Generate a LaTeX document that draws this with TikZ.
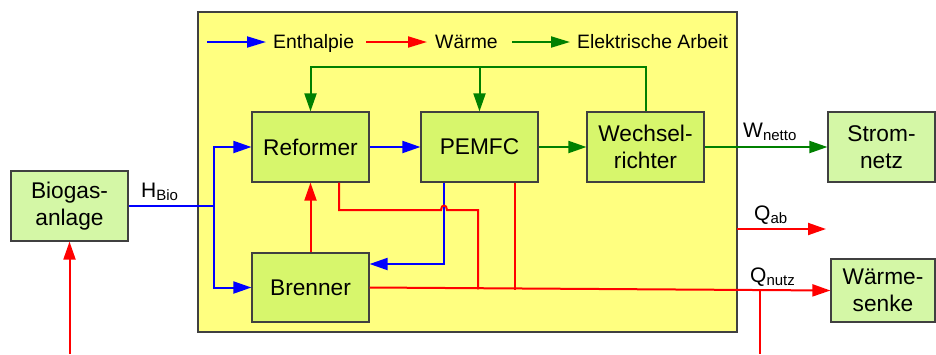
\documentclass[tikz,border=0pt]{standalone}
\usepackage{fontspec}
\setmainfont{Liberation Sans}
\usetikzlibrary{arrows.meta,calc}
\definecolor{yel}{HTML}{FFFF80}
\definecolor{inbox}{HTML}{D7F66C}
\definecolor{exbox}{HTML}{D4F7A6}
\definecolor{edge}{HTML}{404040}
\definecolor{grn}{HTML}{008000}
\newcommand{\lbl}[2]{#1\raisebox{-3.5pt}{\fontsize{15}{15}\selectfont #2}}
\begin{document}
\begin{tikzpicture}[x=1pt,y=-1pt,
  boxbase/.style={draw=edge,line width=1.2pt,inner sep=0pt,align=center,
    font=\fontsize{22.7}{27.5}\selectfont},
  inb/.style={boxbase,fill=inbox,minimum width=117pt,minimum height=70pt},
  exb/.style={boxbase,fill=exbox},
  flow/.style={line width=2pt},
  tip/.style={-{Triangle[length=18pt,width=12pt]}},
  ltip/.style={-{Triangle[length=19pt,width=11pt]}},
  bl/.style={flow,blue},
  rd/.style={flow,red},
  gn/.style={flow,grn},
  legtxt/.style={anchor=base west,inner sep=0pt,font=\fontsize{19.4}{22}\selectfont},
  lab/.style={anchor=base west,inner sep=0pt,font=\fontsize{21}{24}\selectfont}]
\useasboundingbox (0,0) rectangle (936,354);
% main yellow frame
\node[draw=edge,line width=1.2pt,fill=yel,inner sep=0pt,minimum width=539pt,minimum height=320pt] (frame) at (467.5,172) {};
% legend
\coordinate (la1) at (207,42); \coordinate (la2) at (266,42);
\coordinate (lb1) at (366,42); \coordinate (lb2) at (427,42);
\coordinate (lc1) at (512,42); \coordinate (lc2) at (570,42);
\draw[bl,ltip] (la1) -- (la2);
\draw[rd,ltip] (lb1) -- (lb2);
\draw[gn,ltip] (lc1) -- (lc2);
\node[legtxt] (t1) at (273,48.5) {Enthalpie};
\node[legtxt] (t2) at (435,48.5) {Wärme};
\node[legtxt] (t3) at (577,48.5) {Elektrische Arbeit};
% boxes
\node[inb] (reformer) at (310.5,147) {Reformer};
\node[inb] (pemfc) at (479.5,147) {PEMFC};
\node[inb] (wechsel) at (645.5,147) {Wechsel-\\richter};
\node[inb,minimum height=69pt] (brenner) at (310.5,287.5) {Brenner};
\node[exb,minimum width=117pt,minimum height=70pt] (biogas) at (69.5,206) {Biogas-\\anlage};
\node[exb,minimum width=107pt,minimum height=70pt] (strom) at (881.5,147) {Strom-\\netz};
\node[exb,minimum width=104pt,minimum height=63pt] (senke) at (883,290.5) {Wärme-\\senke};
% blue flows
\coordinate (split) at (214,206);
\draw[bl] (biogas.east) -- (split);
\draw[bl,tip] (split) |- (reformer.west);
\draw[bl,tip] (split) |- (brenner.west);
\draw[bl,tip] (reformer.east) -- (pemfc.west);
\draw[bl,tip] ([xshift=-35.5pt]pemfc.south) |- ([yshift=23.5pt]brenner.east);
% green flows
\coordinate (fbl) at (310.5,67); \coordinate (fbm) at (479.5,67);
\draw[gn,tip] (wechsel.north) |- (fbl) -- (reformer.north);
\draw[gn,tip] (fbm) -- (pemfc.north);
\draw[gn,tip] (pemfc.east) -- (wechsel.west);
\draw[gn,tip] (wechsel.east) -- (strom.west);
% red flows
\draw[rd,tip] (brenner.north) -- (reformer.south);
\draw[rd,tip] (brenner.east) -- (senke.west);
\coordinate (hopa) at (441,210); \coordinate (hopb) at (447,210);
\coordinate (rj1) at (478,289.3);
\coordinate (rj2) at (515,289.5);
\draw[rd] ([xshift=28.5pt]reformer.south) |- (hopa) .. controls (441,204) and (447,204) .. (hopb) -| (rj1);
\draw[rd] ([xshift=35.5pt]pemfc.south) -- (rj2);
\coordinate (qabS) at (737,229); \coordinate (qabE) at (826,229);
\draw[rd,tip] (qabS) -- (qabE);
\coordinate (qn1) at (760,290); \coordinate (qn2) at (760,354);
\draw[rd] (qn1) -- (qn2);
\coordinate (bioIn) at (69.5,354);
\draw[rd,tip] (bioIn) -- (biogas.south);
% labels
\node[lab] (hbio) at (141,197) {\lbl{H}{Bio}};
\node[lab] (wnet) at (743,137) {\lbl{W}{netto}};
\node[lab] (qab) at (754,220) {\lbl{Q}{ab}};
\node[lab] (qnutz) at (750,282) {\lbl{Q}{nutz}};
\end{tikzpicture}
\end{document}
